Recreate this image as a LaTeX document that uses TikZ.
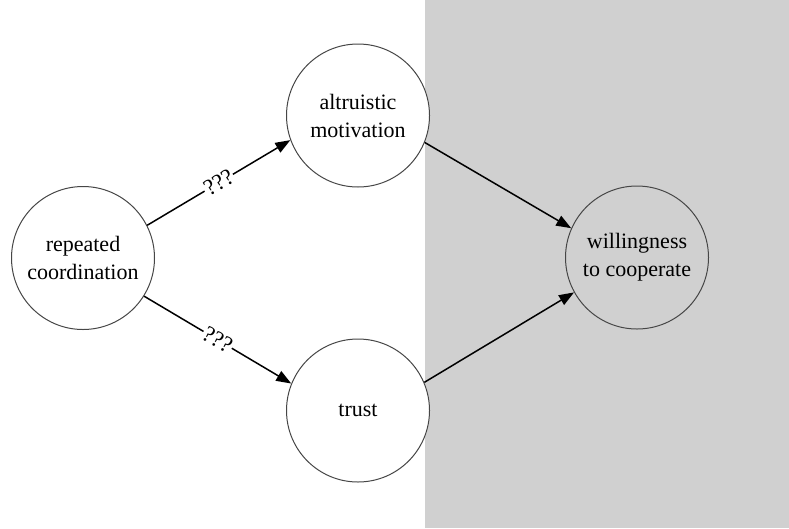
\documentclass[tikz,border=0pt]{standalone}
\usepackage{fontspec}
\setmainfont{Liberation Serif}
\usetikzlibrary{arrows.meta}
\definecolor{bggray}{RGB}{208,208,208}
\definecolor{ringgray}{RGB}{70,70,70}
\tikzset{
  concept/.style={circle, draw=ringgray, line width=1pt, minimum size=143pt, inner sep=0pt,
    align=center, font=\fontsize{22}{28}\selectfont},
  whitefill/.style={fill=white},
  arr/.style={line width=1.5pt, -{Triangle[length=15pt,width=11pt]}},
  qlabel/.style={sloped, fill=white, inner sep=1pt, font=\fontsize{23}{24}\selectfont}
}
\begin{document}
\begin{tikzpicture}[x=1pt,y=-1pt]
\useasboundingbox (0,0) rectangle (789,528);
\fill[white] (0,0) rectangle (789,528);
\fill[bggray] (425,0) rectangle (789,528);
\node[concept, whitefill] (rep) at (83,258) {repeated\\coordination};
\node[concept, whitefill] (alt) at (358,115.5) {altruistic\\motivation};
\node[concept, whitefill] (trust) at (358,410.5) {trust};
\node[concept] (will) at (637,257.5) {willingness\\to cooperate};
\draw[arr] (rep.27) -- node[qlabel]{???} (alt.200);
\draw[arr] (rep.-32) -- node[qlabel]{???} (trust.158);
\draw[arr] (alt.-22) -- (will.156);
\draw[arr] (trust.23) -- (will.209);
\end{tikzpicture}
\end{document}
